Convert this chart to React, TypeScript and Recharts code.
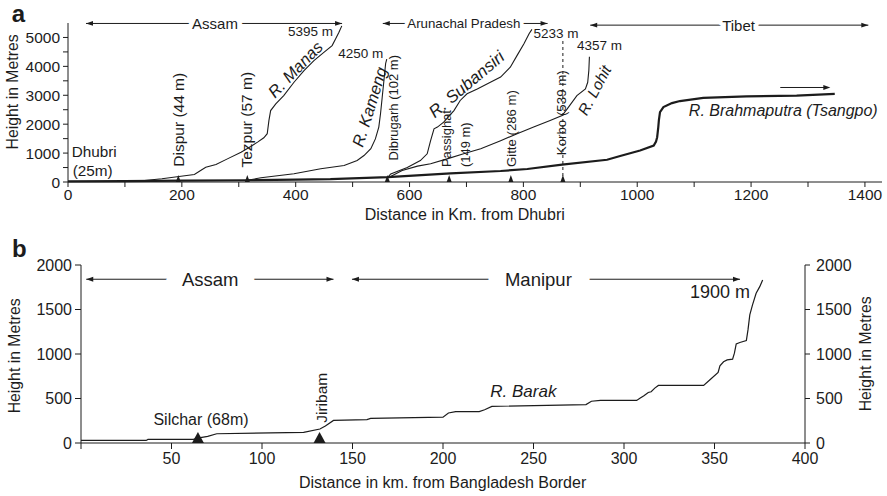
import React from 'react';
import { ComposedChart, Line, XAxis, YAxis, Scatter, ReferenceDot, ReferenceLine } from 'recharts';

const FONT = '"Liberation Sans", Arial, Helvetica, sans-serif';
const INK = '#1c1c1c';

// ---------- Panel a data (km from Dhubri, height m) ----------
const brahmaputra: [number, number][] = [
  [0, 25], [100, 30], [200, 45], [315, 60], [400, 85], [461, 100], [562, 170], [672, 300],
  [760, 380], [807, 450], [868, 600], [947, 770], [970, 900], [1005, 1090], [1029, 1260],
  [1033, 1400], [1035, 1550], [1037, 1900], [1038, 2130], [1040, 2420], [1046, 2590],
  [1061, 2730], [1075, 2800], [1116, 2910], [1192, 2960], [1280, 2990], [1347, 3050],
];
const manas: [number, number][] = [
  [130, 45], [165, 110], [195, 190], [222, 260], [233, 400], [242, 510], [260, 605], [280, 800],
  [304, 1030], [321, 1230], [333, 1380], [344, 1530], [350, 1670], [353, 2130], [356, 2470],
  [365, 2700], [379, 2990], [397, 3450], [415, 3860], [432, 4200], [450, 4490], [464, 4720],
  [470, 4950], [476, 5180], [481, 5400],
];
const kameng: [number, number][] = [
  [315, 60], [339, 145], [397, 285], [444, 460], [485, 570], [508, 745], [520, 915], [532, 1150],
  [540, 1490], [546, 1900], [549, 2360], [552, 2930], [555, 3510], [558, 4100], [560, 4250],
];
const subansiri: [number, number][] = [
  [562, 170], [567, 280], [596, 500], [619, 740], [631, 975], [637, 1430], [643, 1840],
  [649, 1900], [660, 2070], [678, 2470], [689, 2820], [701, 3050], [719, 3220], [742, 3450],
  [760, 3630], [777, 3970], [789, 4380], [801, 4780], [810, 5130], [815, 5280],
];
const lohit: [number, number][] = [
  [565, 170], [587, 400], [614, 550], [637, 630], [666, 800], [695, 975], [725, 1150],
  [760, 1430], [789, 1670], [818, 1900], [847, 2130], [868, 2300], [877, 2530], [894, 2990],
  [909, 3220], [913, 3450], [915, 3860], [916, 4330],
];
const townNamesA = ['Dispur (44 m)', 'Tezpur (57 m)', 'Dibrugarh (102 m)', 'Passighat', 'Gitte (286 m)', 'Korbo (539 m)'];
const townKmA = [193.8, 315, 561, 669.6, 778, 869.4];
const xTicksA = [0, 100, 200, 300, 400, 500, 600, 700, 800, 900, 1000, 1100, 1200, 1300, 1400];
const yTicksA = [0, 500, 1000, 1500, 2000, 2500, 3000, 3500, 4000, 4500, 5000];
const regionNamesA = ['Assam', 'Arunachal Pradesh', 'Tibet'];

// ---------- Panel b data (km from Bangladesh border, height m) ----------
const barak: [number, number][] = [
  [0, 29], [36, 29], [37, 40], [62, 40], [66, 60], [70, 74], [75, 104], [123, 119], [132, 157],
  [135, 190], [139.5, 254], [158, 262], [160, 276], [200, 290], [203, 337], [207, 353],
  [220, 353], [223, 374], [227, 412], [279, 432], [282, 469], [287, 478], [307, 478], [309, 505],
  [311, 530], [313.4, 568], [315, 576], [317, 617], [319, 647], [344, 647], [347.5, 710],
  [352, 792], [353, 867], [355, 912], [357, 934], [360, 942], [361, 1009], [362, 1114],
  [364, 1129], [367.6, 1151], [368.5, 1271], [369.5, 1439], [371, 1552], [373, 1683],
  [375, 1757], [376.6, 1832],
];
const townNamesB = ['Silchar (68m)', 'Jiribam'];
const townKmB = [64.6, 131.8];
const xTicksB = [0, 50, 100, 150, 200, 250, 300, 350, 400];
const yTicksB = [0, 500, 1000, 1500, 2000];
const regionNamesB = ['Assam', 'Manipur'];

// ---------- Annotation layout (data units) ----------
type Note = { t: string; x: number; y: number; size: number; angle?: number; anchor?: 'start' | 'middle' | 'end'; italic?: boolean; bold?: boolean; alpha?: boolean };

const notesA: Note[] = [
  { t: 'a', x: -99, y: 5540, size: 24, bold: true, anchor: 'start', alpha: true },
  { t: 'Height in Metres', x: -96.9, y: 3116, size: 15.8, angle: -90 },
  { t: 'Distance in Km. from Dhubri', x: 697, y: -1118, size: 16 },
  { t: 'Dhubri', x: 6.5, y: 1039, size: 15.3, anchor: 'start' },
  { t: '(25m)', x: 8.3, y: 405, size: 15.3, anchor: 'start' },
  { t: townNamesA[0], x: 193.3, y: 2154, size: 15.5, angle: -90 },
  { t: townNamesA[1], x: 314, y: 2154, size: 15.5, angle: -90 },
  { t: townNamesA[2], x: 571, y: 2569, size: 13, angle: -90 },
  { t: townNamesA[3], x: 665.5, y: 1503, size: 13, angle: -90 },
  { t: '(149 m)', x: 698, y: 1290, size: 13, angle: -90 },
  { t: townNamesA[4], x: 779, y: 1849, size: 13.2, angle: -90 },
  { t: townNamesA[5], x: 867, y: 2396, size: 13.3, angle: -90 },
  { t: '5395 m', x: 465.7, y: 5194, size: 13.5, anchor: 'end' },
  { t: '4250 m', x: 554, y: 4446, size: 13.5, anchor: 'end' },
  { t: '5233 m', x: 817.8, y: 5139, size: 13.5, anchor: 'start' },
  { t: '4357 m', x: 894, y: 4709, size: 13.5, anchor: 'start' },
  { t: 'R. Manas', x: 399, y: 3902, size: 16.5, angle: -46, italic: true },
  { t: 'R. Kameng', x: 529.3, y: 2597, size: 16.5, angle: -72.6, italic: true },
  { t: 'R. Subansiri', x: 700.4, y: 3376, size: 17, angle: -40, italic: true },
  { t: 'R. Lohit', x: 924.7, y: 3175, size: 15.5, angle: -62, italic: true },
  { t: 'R. Brahmaputra (Tsangpo)', x: 1256.6, y: 2483, size: 16, italic: true },
];
const notesB: Note[] = [
  { t: 'b', x: -38.1, y: 2093, size: 24, bold: true, anchor: 'start', alpha: true },
  { t: 'Height in Metres', x: -36.6, y: 979, size: 15.8, angle: -90 },
  { t: 'Height in Metres', x: 433.5, y: 1002, size: 15.8, angle: -90 },
  { t: 'Distance in km. from Bangladesh Border', x: 199.8, y: -449, size: 16 },
  { t: townNamesB[0], x: 66.3, y: 261, size: 16 },
  { t: townNamesB[1], x: 133.1, y: 508, size: 15.5, angle: -90 },
  { t: 'R. Barak', x: 244.4, y: 579, size: 17, italic: true },
  { t: '1900 m', x: 353, y: 1701, size: 18 },
];
type Region = { x1: number; x2: number; tx: number; y: number; size: number; gap: number };
const regionsA: Region[] = [
  { x1: 31.6, x2: 481.5, tx: 258.3, y: 5484, size: 15, gap: 5 },
  { x1: 553, x2: 842.5, tx: 695.4, y: 5484, size: 13.3, gap: 4 },
  { x1: 917.4, x2: 1406, tx: 1178, y: 5426, size: 15, gap: 4 },
];
const regionsB: Region[] = [
  { x1: 2.9, x2: 139.5, tx: 71.4, y: 1840, size: 18.5, gap: 17 },
  { x1: 149.7, x2: 364.1, tx: 252.7, y: 1840, size: 18.5, gap: 18 },
];
const flowArrowA = { x1: 1251.3, x2: 1339.2, y: 3269 };
const korboLine = { x: 869.4, top: 4965 };

const toPts = (arr: [number, number][]) => arr.map(([km, m]) => ({ km, m }));

const noteShape = (n: Note) => (p: any) => (
  <text
    x={p.cx}
    y={p.cy}
    transform={n.angle ? `rotate(${n.angle} ${p.cx} ${p.cy})` : undefined}
    textAnchor={n.anchor ?? 'middle'}
    dominantBaseline={n.alpha ? 'alphabetic' : 'central'}
    fontSize={n.size}
    fontStyle={n.italic ? 'italic' : 'normal'}
    fontWeight={n.bold ? 'bold' : 'normal'}
    fontFamily={FONT}
    fill={INK}
  >
    {n.t}
  </text>
);

const head = (x: number, y: number, dir: number, len = 7, w = 2.4) => (
  <polygon points={`${x},${y} ${x - dir * len},${y - w} ${x - dir * len},${y + w}`} fill={INK} />
);

const regionShape = (r: Region, label: string) => (p: any) => {
  const { x1, y1, x2, y2 } = p;
  const t = (r.tx - r.x1) / (r.x2 - r.x1);
  const tx = x1 + t * (x2 - x1);
  return (
    <g>
      <line x1={x1} y1={y1} x2={x2} y2={y2} stroke={INK} strokeWidth={1} />
      {head(x1, y1, -1)}
      {head(x2, y2, 1)}
      <text
        x={tx}
        y={y1}
        textAnchor="middle"
        dominantBaseline="central"
        fontSize={r.size}
        fontFamily={FONT}
        fill={INK}
        stroke="#fff"
        strokeWidth={r.gap * 2}
        strokeLinejoin="round"
        style={{ paintOrder: 'stroke' }}
      >
        {label}
      </text>
    </g>
  );
};

const flowShape = (p: any) => (
  <g>
    <line x1={p.x1} y1={p.y1} x2={p.x2 - 4} y2={p.y2} stroke={INK} strokeWidth={1} />
    {head(p.x2, p.y2, 1)}
  </g>
);

const triShape = (w: number, h: number) => (p: any) => (
  <polygon points={`${p.cx - w / 2},${p.cy} ${p.cx + w / 2},${p.cy} ${p.cx},${p.cy - h}`} fill={INK} />
);

const tickStyle = (size: number) => ({ fill: INK, fontSize: size, fontFamily: FONT });

function PanelA() {
  const markers = townKmA.map((km) => ({ km, m: 0 }));
  return (
    <ComposedChart width={887} height={230} margin={{ top: 23, right: 5, bottom: 18, left: 0 }}>
      <XAxis
        type="number"
        dataKey="km"
        domain={[0, 1430]}
        ticks={xTicksA}
        interval={0}
        tickFormatter={(v: number) => (v % 200 === 0 ? String(v) : '')}
        stroke={INK}
        tick={tickStyle(15.5)}
        tickSize={5}
        tickMargin={2}
        height={30}
      />
      <YAxis
        type="number"
        domain={[0, 5500]}
        ticks={yTicksA}
        interval={0}
        tickFormatter={(v: number) => (v % 1000 === 0 ? String(v) : '')}
        stroke={INK}
        tick={tickStyle(15.5)}
        tickSize={5}
        tickMargin={3}
        width={68}
      />
      <ReferenceLine
        segment={[{ x: korboLine.x, y: 0 }, { x: korboLine.x, y: korboLine.top }]}
        stroke={INK}
        strokeWidth={1}
        strokeDasharray="3 3"
        ifOverflow="visible"
      />
      <Line data={toPts(manas)} dataKey="m" stroke={INK} strokeWidth={1.1} dot={false} isAnimationActive={false} />
      <Line data={toPts(kameng)} dataKey="m" stroke={INK} strokeWidth={1.1} dot={false} isAnimationActive={false} />
      <Line data={toPts(subansiri)} dataKey="m" stroke={INK} strokeWidth={1.1} dot={false} isAnimationActive={false} />
      <Line data={toPts(lohit)} dataKey="m" stroke={INK} strokeWidth={1.1} dot={false} isAnimationActive={false} />
      <Line data={toPts(brahmaputra)} dataKey="m" stroke={INK} strokeWidth={2.2} dot={false} isAnimationActive={false} />
      <Scatter data={markers} dataKey="m" shape={triShape(5, 7)} isAnimationActive={false} />
      {regionsA.map((r, i) => (
        <ReferenceLine
          key={'ra' + i}
          segment={[{ x: r.x1, y: r.y }, { x: r.x2, y: r.y }]}
          shape={regionShape(r, regionNamesA[i])}
          ifOverflow="visible"
        />
      ))}
      <ReferenceLine
        segment={[{ x: flowArrowA.x1, y: flowArrowA.y }, { x: flowArrowA.x2, y: flowArrowA.y }]}
        shape={flowShape}
        ifOverflow="visible"
      />
      {notesA.map((n, i) => (
        <ReferenceDot key={'na' + i} x={n.x} y={n.y} r={0} ifOverflow="visible" shape={noteShape(n)} />
      ))}
    </ComposedChart>
  );
}

function PanelB() {
  const markers = townKmB.map((km) => ({ km, m: 0 }));
  return (
    <ComposedChart width={887} height={266} margin={{ top: 35, right: 22, bottom: 23, left: 0 }}>
      <XAxis
        type="number"
        dataKey="km"
        domain={[0, 400]}
        ticks={xTicksB}
        interval={0}
        tickFormatter={(v: number) => (v === 0 ? '' : String(v))}
        stroke={INK}
        tick={tickStyle(16)}
        tickSize={6}
        tickMargin={4}
        height={30}
      />
      <YAxis
        yAxisId="left"
        type="number"
        domain={[0, 2000]}
        ticks={yTicksB}
        interval={0}
        stroke={INK}
        tick={tickStyle(16)}
        tickSize={6}
        tickMargin={3}
        width={81}
      />
      <YAxis
        yAxisId="right"
        orientation="right"
        type="number"
        domain={[0, 2000]}
        ticks={yTicksB}
        interval={0}
        stroke={INK}
        tick={tickStyle(16)}
        tickSize={5}
        tickMargin={6}
        width={60}
      />
      <Line yAxisId="right" data={toPts(barak)} dataKey="m" stroke="none" strokeWidth={0} dot={false} activeDot={false} legendType="none" isAnimationActive={false} />
      <Line yAxisId="left" data={toPts(barak)} dataKey="m" stroke={INK} strokeWidth={1.2} dot={false} isAnimationActive={false} />
      <Scatter yAxisId="left" data={markers} dataKey="m" shape={triShape(12, 11)} isAnimationActive={false} />
      {regionsB.map((r, i) => (
        <ReferenceLine
          key={'rb' + i}
          yAxisId="left"
          segment={[{ x: r.x1, y: r.y }, { x: r.x2, y: r.y }]}
          shape={regionShape(r, regionNamesB[i])}
          ifOverflow="visible"
        />
      ))}
      {notesB.map((n, i) => (
        <ReferenceDot key={'nb' + i} yAxisId="left" x={n.x} y={n.y} r={0} ifOverflow="visible" shape={noteShape(n)} />
      ))}
    </ComposedChart>
  );
}

export default function App() {
  return (
    <div style={{ position: 'absolute', left: 0, top: 0, width: 887, height: 496, background: '#fff', fontFamily: FONT }}>
      <div style={{ position: 'absolute', left: 0, top: 0 }}>
        <PanelA />
      </div>
      <div style={{ position: 'absolute', left: 0, top: 230 }}>
        <PanelB />
      </div>
    </div>
  );
}
